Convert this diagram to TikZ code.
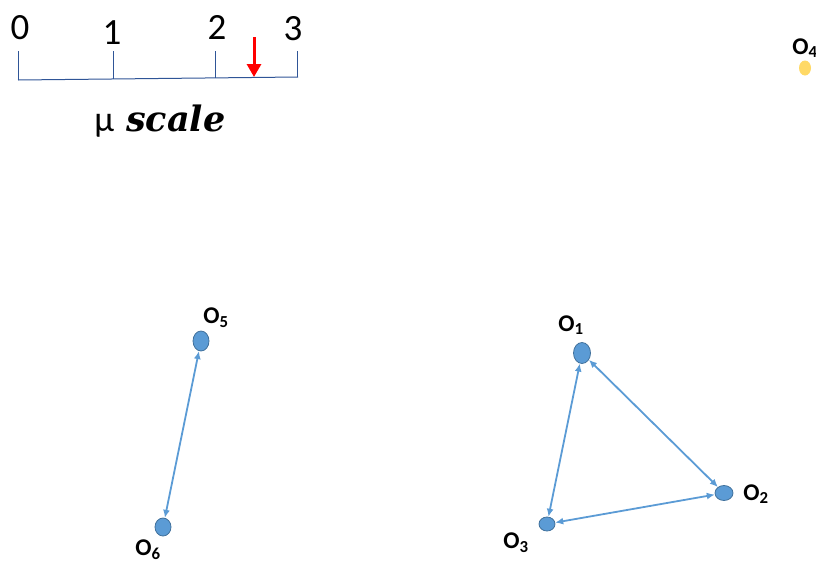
\documentclass[tikz,border=0pt]{standalone}
\usepackage{fontspec}
\setsansfont{Carlito}
\newfontfamily\scaleserif{DejaVu Serif}
\usepackage{tikz}
\usetikzlibrary{arrows.meta,shapes.geometric}

\definecolor{objblue}{HTML}{5B9BD5}
\definecolor{objedge}{HTML}{41719C}
\definecolor{objgold}{HTML}{FFD966}
\definecolor{axisblue}{HTML}{2F5597}

\begin{document}
\begin{tikzpicture}[x=1pt,y=-1pt,>=Latex,every node/.style={font=\sffamily},obj/.style={ellipse,draw=objedge,fill=objblue,line width=0.8pt,inner sep=0pt},objlabel/.style={font=\sffamily\bfseries\fontsize{24}{28}\selectfont},tick/.style={font=\sffamily\fontsize{37}{40}\selectfont},link/.style={<->,objblue,line width=1.8pt,>={Latex[length=8pt,width=7pt]}},axis/.style={axisblue,line width=1pt}]
\useasboundingbox (0,0) rectangle (816,563);
% mu scale
\draw[axis] (18,80) -- (298,77);
\foreach \x/\y/\lx/\ly/\t in {18/80/20/28/0,113/79/112/33/1,215/78/217/27/2,297/77/293/29/3} {\draw[axis] (\x,51) -- (\x,\y); \node[tick] (t\t) at (\lx,\ly) {\t};}
\draw[red,line width=3pt,-{Triangle[length=13pt,width=14pt]}] (254,37) -- (254,77);
\node (mulabel) at (160,121) {\fontsize{36}{40}\selectfont μ\hspace{12pt}\scaleserif\fontsize{35}{40}\selectfont\bfseries\itshape scale};
% objects
\node[obj,minimum width=17pt,minimum height=21pt] (o1) at (582,353) {}; \node[obj,minimum width=18pt,minimum height=15pt] (o2) at (724,493) {}; \node[obj,minimum width=16pt,minimum height=14pt] (o3) at (547,524) {};
\node[ellipse,fill=objgold,inner sep=0pt,minimum width=12pt,minimum height=15pt] (o4) at (805,68) {}; \node[obj,minimum width=16pt,minimum height=20pt] (o5) at (201,341) {}; \node[obj,minimum width=16pt,minimum height=18pt] (o6) at (163,527) {};
\node[objlabel] (l1) at (571,325) {O\textsubscript{1}}; \node[objlabel] (l2) at (756,494) {O\textsubscript{2}}; \node[objlabel] (l3) at (516,543) {O\textsubscript{3}};
\node[objlabel] (l4) at (805,48) {O\textsubscript{4}}; \node[objlabel] (l5) at (216,318) {O\textsubscript{5}}; \node[objlabel] (l6) at (148,550) {O\textsubscript{6}};
\draw[link] (o1) -- (o2); \draw[link] (o1) -- (o3); \draw[link] (o2) -- (o3); \draw[link] (o5) -- (o6);
\end{tikzpicture}
\end{document}
